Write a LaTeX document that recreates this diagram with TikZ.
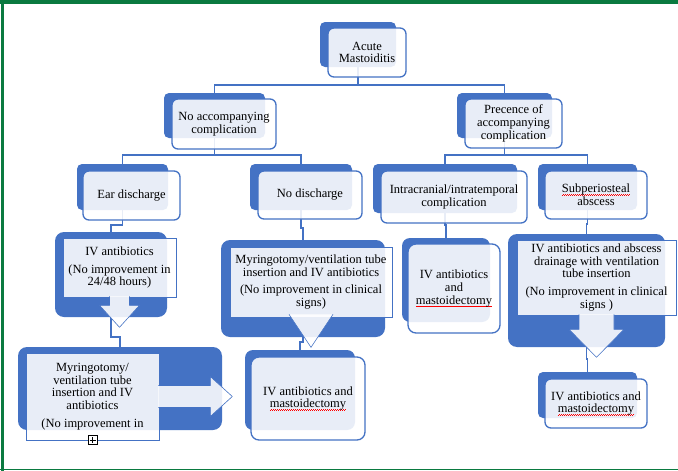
\documentclass[tikz,border=0pt]{standalone}
\usepackage{fontspec}
\setmainfont{Liberation Serif}
\usepackage{tikz}
\usetikzlibrary{positioning, backgrounds}

\definecolor{azul}{RGB}{68,114,196}
\definecolor{verde}{RGB}{10,122,64}

\newsavebox\ondabox
\newcommand\ondulado[1]{\sbox\ondabox{#1}\rlap{\color{red}\hbox to \wd\ondabox{\xleaders\hbox{\rule[-2.9pt]{1pt}{.7pt}\rule[-2.2pt]{1pt}{.7pt}}\hfil}}\usebox\ondabox}
\newcommand\texto{\fontsize{12.5}{12.7}\selectfont}

\begin{document}
\begin{tikzpicture}[x=1pt, y=-1pt,
	fondo/.style={fill=azul, draw=none, rounded corners=5pt, inner sep=0pt},
	caja/.style={fill=white, fill opacity=.88, text opacity=1, draw=azul, line width=1.3pt, rounded corners=6pt, align=center, inner sep=0pt, font=\texto},
	marco/.style={fill=white, fill opacity=.88, text opacity=1, draw=azul, line width=.6pt, align=center, inner sep=0pt, font=\texto},
	flecha/.style={fill=white, fill opacity=.88, draw=azul, line width=.6pt},
	linea/.style={draw=azul, line width=1.7pt}]
	
	\useasboundingbox (0,0) rectangle (678,471);
	
	% Fondos de las cajas
	\node[fondo, minimum width=76pt, minimum height=45pt] (AcuteB) at (358,44.5) {};
	\node[fondo, minimum width=101pt, minimum height=45pt] (NoCompB) at (214.5,115.5) {};
	\node[fondo, minimum width=95pt, minimum height=45pt] (CompB) at (504.5,115.5) {};
	\node[fondo, minimum width=91pt, minimum height=46pt] (EarB) at (122.5,187) {};
	\node[fondo, minimum width=102pt, minimum height=46pt] (NoDisB) at (301,187) {};
	\node[fondo, minimum width=144pt, minimum height=49pt] (IntraB) at (445,188.5) {};
	\node[fondo, minimum width=99pt, minimum height=46pt] (SubpB) at (587.5,187) {};
	\node[fondo, rounded corners=9pt, minimum width=112pt, minimum height=85pt] (IVabB) at (111,274.5) {};
	\node[fondo, rounded corners=9pt, minimum width=164pt, minimum height=97pt] (MyrVentB) at (303,288.5) {};
	\node[fondo, rounded corners=8pt, minimum width=88pt, minimum height=84pt] (IntraIVB) at (446,280) {};
	\node[fondo, rounded corners=9pt, minimum width=157pt, minimum height=113pt] (SubpIVB) at (586.5,290.5) {};
	\node[fondo, rounded corners=9pt, minimum width=204pt, minimum height=83pt] (MyrIVB) at (120,388.5) {};
	\node[fondo, rounded corners=8pt, minimum width=110pt, minimum height=80pt] (BotMidB) at (300,390) {};
	\node[fondo, minimum width=99pt, minimum height=46pt] (BotRightB) at (587.5,395) {};
	
	% Cajas con texto
	\node[caja, minimum width=78pt, minimum height=49pt] (Acute) at (367,52.5) {Acute\\Mastoiditis};
	\node[caja, minimum width=104pt, minimum height=50pt] (NoComp) at (224,124) {No accompanying\\complication};
	\node[caja, minimum width=97pt, minimum height=49pt] (Comp) at (513.5,123.5) {Precence of\\accompanying\\complication};
	\node[caja, minimum width=97pt, minimum height=49pt] (Ear) at (131.5,195.5) {Ear discharge};
	\node[caja, minimum width=104pt, minimum height=48pt] (NoDis) at (310,195) {No discharge};
	\node[caja, minimum width=146pt, minimum height=52pt] (Intra) at (454,197) {Intracranial/intratemporal\\complication};
	\node[caja, minimum width=102pt, minimum height=48pt] (Subp) at (596,195) {\ondulado{Subperiosteal}\\abscess};
	\node[caja, rounded corners=8pt, minimum width=92pt, minimum height=89pt] (IntraIV) at (454,288.5) {IV antibiotics\\and\\\ondulado{mastoidectomy}};
	\node[caja, rounded corners=8pt, minimum width=114pt, minimum height=83pt] (BotMid) at (308,398.5) {IV antibiotics and\\\ondulado{mastoidectomy}};
	\node[caja, minimum width=102pt, minimum height=49pt] (BotRight) at (596,403.5) {IV antibiotics and\\\ondulado{mastoidectomy}};
	
	% Cajas con flecha
	\node[marco, minimum width=113pt, minimum height=59pt] (IVab) at (119.5,267.5) {IV antibiotics\\[5pt](No improvement in\\24/48 hours)};
	\node[marco, minimum width=162pt, minimum height=70pt] (MyrVent) at (311,282) {Myringotomy/ventilation tube\\insertion and IV antibiotics\\[5pt](No improvement in clinical\\signs)};
	\node[marco, minimum width=159pt, minimum height=75pt] (SubpIV) at (596.5,277.5) {IV antibiotics and abscess\\drainage with ventilation\\tube insertion\\[5pt](No improvement in clinical\\signs )};
	\node[marco, minimum width=133pt, minimum height=87pt] (MyrIV) at (92.5,396.5) {Myringotomy/\\ventilation tube\\insertion and IV\\antibiotics\\[5pt](No improvement in};
	\node[draw=black, line width=.8pt, fill=white, minimum size=9pt, inner sep=0pt] (Mas) at (MyrIV.south) {};
	\draw[line width=.8pt] ([yshift=3pt]Mas.center) -- ([yshift=-3pt]Mas.center) ([xshift=-3pt]Mas.center) -- ([xshift=3pt]Mas.center);
	
	% Flechas
	\draw[flecha] ([shift={(-10,-1)}]IVab.south) -- ++(0,9) -- ++(-10,0) -- ++(20,22) -- ++(20,-22) -- ++(-10,0) -- ++(0,-9);
	\draw[flecha] ([shift={(-22,-3)}]MyrVent.south) -- ++(22,33) -- ++(22,-33);
	\draw[flecha] ([shift={(-17.5,-1)}]SubpIV.south) -- ++(0,15) -- ++(-10,0) -- ++(27.5,28) -- ++(27.5,-28) -- ++(-10,0) -- ++(0,-15);
	\draw[flecha] ([shift={(-1,-11)}]MyrIV.east) -- ++(52,0) -- ++(0,-9) -- ++(22,20) -- ++(-22,20) -- ++(0,-9) -- ++(-52,0);
	
	% Marco y conexiones en la capa de fondo
	\begin{scope}[on background layer]
		\fill[white] (0,0) rectangle (678,471);
		\fill[verde] (0,0) rectangle (678,4);
		\fill[verde] (1,4) rectangle (3.5,471);
		\fill[verde] (0,468.8) rectangle (678,470.2);
		
		\foreach \a/\b/\d in {AcuteB/NoCompB/18, AcuteB/CompB/18, NoCompB/EarB/17, NoCompB/NoDisB/17, CompB/IntraB/17, CompB/SubpB/17, EarB/IVabB/15, NoDisB/MyrVentB/18, IntraB/IntraIVB/12, SubpB/SubpIVB/14, IVabB/MyrIVB/20, MyrVentB/BotMidB/5, SubpIVB/BotRightB/12}{
			\draw[linea] (\a.south) -- ++(0,\d) -| (\b.north);
		}
	\end{scope}
	
\end{tikzpicture}
\end{document}
